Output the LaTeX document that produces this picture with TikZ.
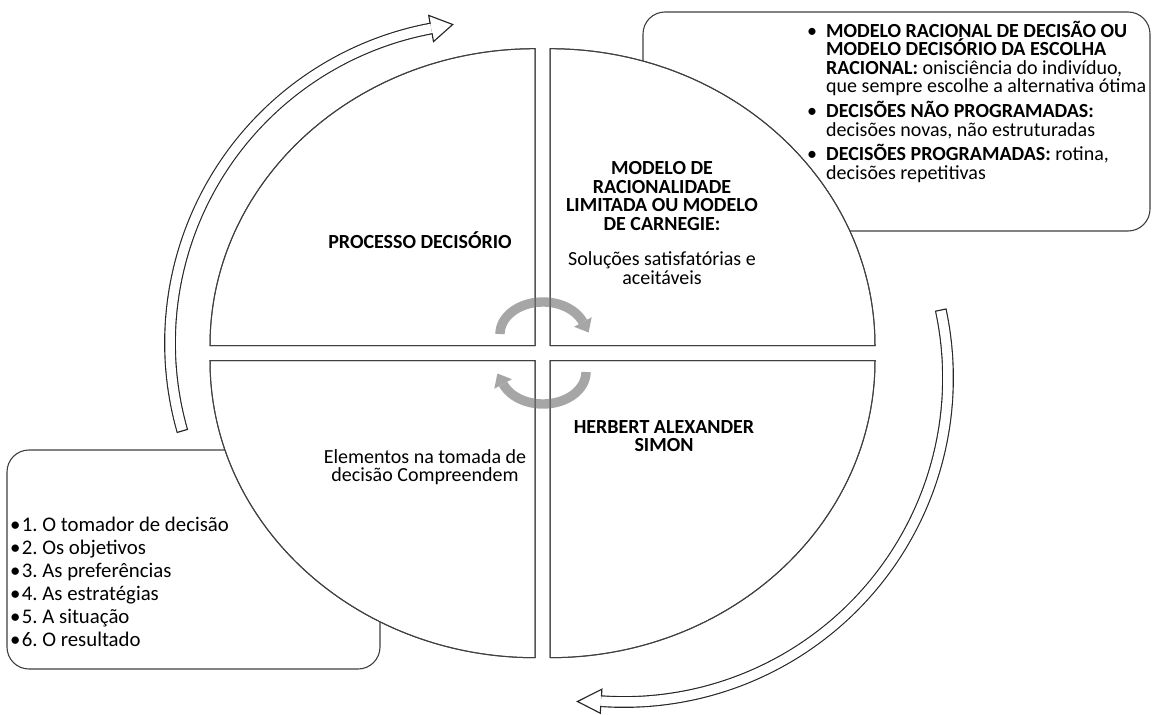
\documentclass[tikz,border=0pt]{standalone}
\usepackage{fontspec}
\setmainfont{Carlito}
\definecolor{spingray}{RGB}{166,166,166}
\definecolor{inkline}{RGB}{64,64,64}
\setlength{\lineskiplimit}{-50pt}
\frenchspacing
\begin{document}
\begin{tikzpicture}[x=1pt,y=-1pt,
  panel/.style={draw=inkline, line width=1pt, fill=white},
  callout/.style={draw=inkline, line width=1.1pt, fill=white, rounded corners=22pt},
  bigarrow/.style={draw=black!85, line width=1.15pt, double=white, double distance=9.5pt},
  tipline/.style={draw=black!85, line width=1.15pt, line join=miter, line cap=rect},
  spinband/.style={draw=spingray, line width=9.4pt},
  spinhead/.style={fill=spingray},
  qbold/.style={font=\fontsize{20}{18.5}\selectfont\bfseries, align=center, inner sep=0pt},
  qreg/.style={font=\fontsize{20}{18.5}\selectfont, align=center, inner sep=0pt},
  boxtxt/.style={font=\fontsize{20}{18.5}\selectfont, align=left, inner sep=0pt, anchor=base west},
  listtxt/.style={font=\fontsize{20.8}{23}\selectfont, align=left, inner sep=0pt, anchor=base west},
]
\useasboundingbox (0,0) rectangle (1152,715);

% rounded text panels behind the disc
\draw[callout] (643,12) rectangle (1150,231);
\draw[callout] (7,450) rectangle (380,669);

% the four quarter panels of the disc
\coordinate (cTL) at (535,345.7);
\coordinate (cTR) at (550,345.7);
\coordinate (cBR) at (550,360.7);
\coordinate (cBL) at (535,360.7);
\path[panel] (cTL) -- ++(-325,0) arc[start angle=180, end angle=90, x radius=325pt, y radius=297pt] -- cycle;
\path[panel] (cTR) -- ++(0,-297) arc[start angle=90, end angle=0, x radius=325pt, y radius=297pt] -- cycle;
\path[panel] (cBR) -- ++(325,0) arc[start angle=0, end angle=-90, x radius=325pt, y radius=297pt] -- cycle;
\path[panel] (cBL) -- ++(0,297) arc[start angle=270, end angle=180, x radius=325pt, y radius=297pt] -- cycle;

% outlined sweeping arrow on the left (circle arc, centre (490,343), r 320)
\draw[bigarrow] plot[domain=164.05:259.4, samples=60, smooth] ({490+320*cos(\x)},{343+320*sin(\x)});
\draw[tipline] (177.3,432.4) -- (187.5,429.4);
\draw[tipline] (430.1,23.3) -- (428.7,15.4) -- (452.7,24.5) -- (433.5,41.6) -- (432.1,33.7);

% outlined sweeping arrow on the right (circle arc, centre (624,378), r 324)
\draw[bigarrow] plot[domain=-12.1:94.05, samples=60, smooth] ({624+324*cos(\x)},{378+324*sin(\x)});
\draw[tipline] (946.0,309.0) -- (935.6,311.2);
\draw[tipline] (601.5,695.9) -- (601.9,689.2) -- (577.5,701.5) -- (600.3,713.2) -- (600.7,706.5);

% grey turning arrows at the centre
\draw[spinband] plot[domain=180:338, samples=40, smooth] ({543+43*cos(\x)},{334+32*sin(\x)});
\fill[spinhead] (591.7,317.2) -- (588.6,332.5) -- (574.1,326.8) -- cycle;
\draw[spinband] plot[domain=0:158, samples=40, smooth] ({543+43*cos(\x)},{372+32*sin(\x)});
\fill[spinhead] (494.3,388.8) -- (497.4,373.5) -- (511.9,379.2) -- cycle;

% quarter outlines again so they stay on top of the grey arrows
\draw[panel, fill=none] (cTL) -- ++(-325,0) arc[start angle=180, end angle=90, x radius=325pt, y radius=297pt] -- cycle;
\draw[panel, fill=none] (cTR) -- ++(0,-297) arc[start angle=90, end angle=0, x radius=325pt, y radius=297pt] -- cycle;
\draw[panel, fill=none] (cBR) -- ++(325,0) arc[start angle=0, end angle=-90, x radius=325pt, y radius=297pt] -- cycle;
\draw[panel, fill=none] (cBL) -- ++(0,297) arc[start angle=270, end angle=180, x radius=325pt, y radius=297pt] -- cycle;

% quarter labels
\node[qbold] (proc) at (420,240) {PROCESSO DECISÓRIO};
\node[qbold] (carnegie) at (662,196) {MODELO DE\\RACIONALIDADE\\LIMITADA OU MODELO\\DE CARNEGIE:};
\node[qreg] (solucoes) at (662,268) {Soluções satisfatórias e\\aceitáveis};
\node[qbold] (simon) at (664,436) {HERBERT ALEXANDER\\SIMON};
\node[qreg] (elementos) at (425,467) {Elementos na tomada de\\decisão Compreendem};

% bullets of the upper right panel (text anchors sit on the last line)
\node[boxtxt] (dotA) at (807,37) {•};
\node[boxtxt] (itemA) at (826,92.5) {\textbf{MODELO RACIONAL DE DECISÃO OU}\\\textbf{MODELO DECISÓRIO DA ESCOLHA}\\\textbf{RACIONAL:} onisciência do indivíduo,\\que sempre escolhe a alternativa ótima};
\node[boxtxt] (dotB) at (807,117.5) {•};
\node[boxtxt] (itemB) at (826,136) {\textbf{DECISÕES NÃO PROGRAMADAS:}\\decisões novas, não estruturadas};
\node[boxtxt] (dotC) at (807,160.5) {•};
\node[boxtxt] (itemC) at (826,179) {\textbf{DECISÕES PROGRAMADAS:} rotina,\\decisões repetitivas};

% list of the lower left panel
\node[listtxt] (listdots) at (10,646.4) {•\\•\\•\\•\\•\\•};
\node[listtxt] (lista) at (21.7,646.4) {1. O tomador de decisão\\2. Os objetivos\\3. As preferências\\4. As estratégias\\5. A situação\\6. O resultado};
\end{tikzpicture}
\end{document}
